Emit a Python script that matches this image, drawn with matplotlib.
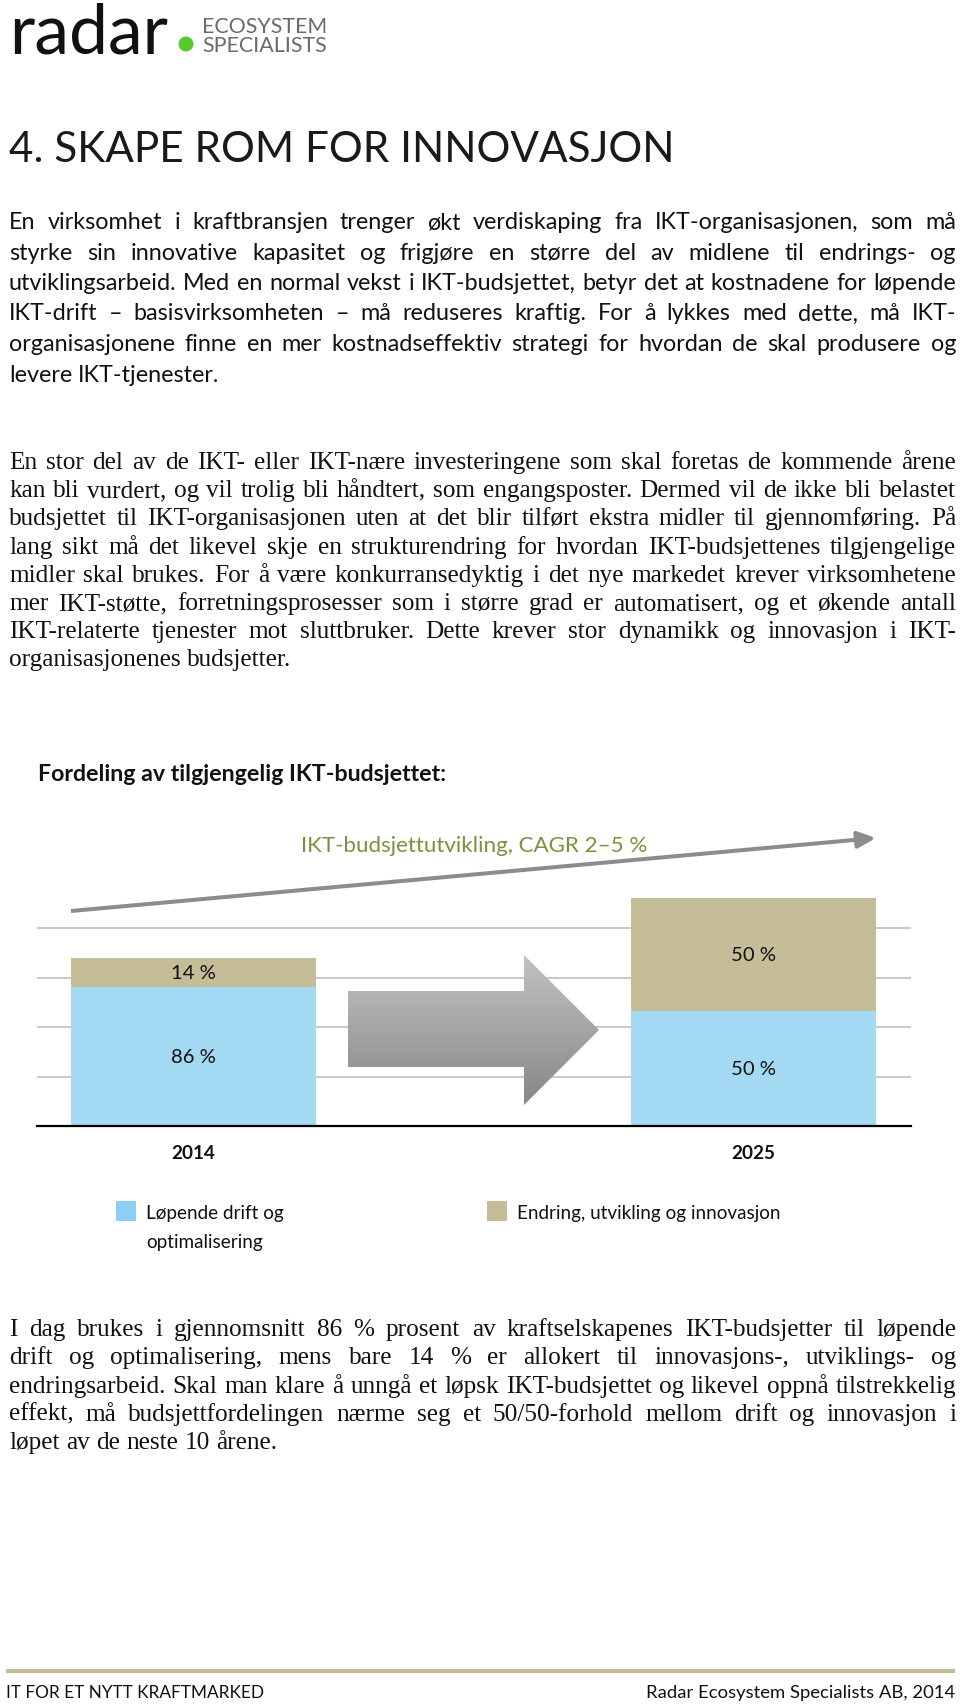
import numpy as np
import matplotlib
matplotlib.use("Agg")
import matplotlib.pyplot as plt
from matplotlib.font_manager import FontProperties
from matplotlib.patches import Polygon, Rectangle, Circle, FancyArrowPatch
from matplotlib.colors import LinearSegmentedColormap

# ---------------- data ----------------
years = ['2014', '2025']
drift = [84, 70]            # bar segment heights (index units)
innovasjon = [18, 68]
drift_labels = ['86 %', '50 %']
innov_labels = ['14 %', '50 %']
legend_names = ['Løpende drift og\noptimalisering', 'Endring, utvikling og innovasjon']
grid_values = [30, 60, 90, 120]
trend_label = 'IKT-budsjettutvikling, CAGR 2–5 %'
chart_title = 'Fordeling av tilgjengelig IKT-budsjettet:'
page_title = '4. SKAPE ROM FOR INNOVASJON'
footer_left = 'IT FOR ET NYTT KRAFTMARKED'
footer_right = 'Radar Ecosystem Specialists AB, 2014'

para1 = [
    "En virksomhet i kraftbransjen trenger økt verdiskaping fra IKT-organisasjonen, som må",
    "styrke sin innovative kapasitet og frigjøre en større del av midlene til endrings- og",
    "utviklingsarbeid. Med en normal vekst i IKT-budsjettet, betyr det at kostnadene for løpende",
    "IKT-drift – basisvirksomheten – må reduseres kraftig. For å lykkes med dette, må IKT-",
    "organisasjonene finne en mer kostnadseffektiv strategi for hvordan de skal produsere og",
    "levere IKT-tjenester.",
]
para2 = [
    "En stor del av de IKT- eller IKT-nære investeringene som skal foretas de kommende årene",
    "kan bli vurdert, og vil trolig bli håndtert, som engangsposter. Dermed vil de ikke bli belastet",
    "budsjettet til IKT-organisasjonen uten at det blir tilført ekstra midler til gjennomføring. På",
    "lang sikt må det likevel skje en strukturendring for hvordan IKT-budsjettenes tilgjengelige",
    "midler skal brukes. For å være konkurransedyktig i det nye markedet krever virksomhetene",
    "mer IKT-støtte, forretningsprosesser som i større grad er automatisert, og et økende antall",
    "IKT-relaterte tjenester mot sluttbruker. Dette krever stor dynamikk og innovasjon i IKT-",
    "organisasjonenes budsjetter.",
]
para3 = [
    "I dag brukes i gjennomsnitt 86 % prosent av kraftselskapenes IKT-budsjetter til løpende",
    "drift og optimalisering, mens bare 14 % er allokert til innovasjons-, utviklings- og",
    "endringsarbeid. Skal man klare å unngå et løpsk IKT-budsjettet og likevel oppnå tilstrekkelig",
    "effekt, må budsjettfordelingen nærme seg et 50/50-forhold mellom drift og innovasjon i",
    "løpet av de neste 10 årene.",
]

# ---------------- style ----------------
SANS = 'Lato'
SERIF = 'Liberation Serif'
BLUE = '#A3D9F2'
BLUE_LEG = '#8CCFF5'
TAN = '#C4BD97'
GRID = '#BFBFBF'
OLIVE = '#77933C'
TXT = '#111111'

W, H = 960, 1708
fig = plt.figure(figsize=(W / 100, H / 100), dpi=100)
fig.patch.set_facecolor('white')
renderer = fig.canvas.get_renderer()


def tw(s, fp):
    w, h, d = renderer.get_text_width_height_descent(s, fp, ismath=False)
    return w


def fit_size(s, width, family=SANS, weight='normal'):
    fp = FontProperties(family=family, size=10, weight=weight)
    return 10 * width / tw(s, fp)


# page axes in pixel coordinates
axp = fig.add_axes([0, 0, 1, 1], zorder=2)
axp.set_xlim(0, W)
axp.set_ylim(H, 0)
axp.axis('off')

# ---------------- chart axes ----------------
px_per_unit = 49.5 / 30
x_left, x_right = 37, 911
base_y = 1127
ymax = 150
top_y = base_y - ymax * px_per_unit
axc = fig.add_axes([x_left / W, 1 - base_y / H, (x_right - x_left) / W, (base_y - top_y) / H], zorder=1)
axc.set_facecolor('none')
xpos = np.arange(len(years))
bw = 0.4375
b1 = axc.bar(xpos, drift, width=bw, color=BLUE, zorder=2)
b2 = axc.bar(xpos, innovasjon, width=bw, bottom=drift, color=TAN, zorder=2)
axc.set_xlim(-0.2795, 1.28125)
axc.set_ylim(0, ymax)
axc.set_yticks(grid_values)
axc.yaxis.grid(True, color=GRID, lw=1.2)
axc.set_axisbelow(True)
axc.tick_params(axis='y', length=0, labelleft=False)
for sp in ['top', 'left', 'right']:
    axc.spines[sp].set_visible(False)
axc.spines['bottom'].set_color('black')
axc.spines['bottom'].set_linewidth(1.6)
ysz = fit_size('2014', 44, weight='bold')
axc.set_xticks(xpos)
axc.set_xticklabels(years, fontsize=ysz, fontweight='bold', family=SANS, color=TXT)
axc.tick_params(axis='x', length=0, pad=13)
lsz = fit_size('14 %', 45)
axc.bar_label(b1, labels=drift_labels, label_type='center', fontsize=lsz, family=SANS, color=TXT)
axc.bar_label(b2, labels=innov_labels, label_type='center', fontsize=lsz, family=SANS, color=TXT)

# big gradient arrow between bars
verts = [(348, 992), (524, 992), (524, 956), (599, 1031), (524, 1106), (524, 1068), (348, 1068)]
poly = Polygon(verts, closed=True, transform=axp.transData, facecolor='none', edgecolor='none')
cmap = LinearSegmentedColormap.from_list('g', ['#C2C2C2', '#878787'])
grad = np.linspace(0, 1, 256).reshape(-1, 1)
im = axp.imshow(grad, cmap=cmap, extent=(348, 599, 1106, 956), origin='upper', aspect='auto', zorder=3)
im.set_clip_path(poly)
axp.set_xlim(0, W)
axp.set_ylim(H, 0)

# trend arrow
arr = FancyArrowPatch((71, 912), (876, 839), arrowstyle='-|>,head_length=11,head_width=5',
                      mutation_scale=1, color='#8C8C8C', lw=2.9, shrinkA=0, shrinkB=0,
                      capstyle='butt', zorder=3)
axp.add_patch(arr)
axp.text(474, 852, trend_label, ha='center', va='baseline', color=OLIVE,
         fontsize=fit_size(trend_label, 346), family=SANS)

# chart title
axp.text(38, 781, chart_title, ha='left', va='baseline', color=TXT, fontweight='bold',
         fontsize=fit_size(chart_title, 409, weight='bold'), family=SANS)

# legend
legsz = fit_size(legend_names[1], 263)
axp.add_patch(Rectangle((116, 1202), 20, 20, color=BLUE_LEG, lw=0))
axp.add_patch(Rectangle((487, 1202), 20, 20, color=TAN, lw=0))
l1a, l1b = legend_names[0].split('\n')
axp.text(146, 1219, l1a, ha='left', va='baseline', fontsize=legsz, family=SANS, color=TXT)
axp.text(146, 1248, l1b, ha='left', va='baseline', fontsize=legsz, family=SANS, color=TXT)
axp.text(517, 1219, legend_names[1], ha='left', va='baseline', fontsize=legsz, family=SANS, color=TXT)

# ---------------- logo ----------------
axp.text(9, 53, 'radar', ha='left', va='baseline', color='#111111',
         fontsize=fit_size('radar', 160), family=SANS)
axp.add_patch(Circle((186, 45), 7.5, color='#5BC92E', lw=0))
esz = fit_size('SPECIALISTS', 123)
axp.text(202, 33, 'ECOSYSTEM', ha='left', va='baseline', color='#6B6B6B', fontsize=esz, family=SANS)
axp.text(202, 52, 'SPECIALISTS', ha='left', va='baseline', color='#6B6B6B', fontsize=esz, family=SANS)

# title
axp.text(9, 162, page_title, ha='left', va='baseline', color='#1A1A1A',
         fontsize=fit_size(page_title, 658), family=SANS)


# ---------------- justified paragraphs ----------------
def para_size(groups, family, width):
    fp10 = FontProperties(family=family, size=10)
    sp10 = tw('x x', fp10) - tw('xx', fp10)
    nat = []
    for lines in groups:
        for ln in lines[:-1]:
            words = ln.split(' ')
            nat.append(sum(tw(w, fp10) for w in words) + sp10 * (len(words) - 1))
    return 10 * width / max(nat) * 0.995


def draw_para(lines, family, size, x0, x1, y0, dy):
    fp = FontProperties(family=family, size=size)
    sp = tw('x x', fp) - tw('xx', fp)
    for i, ln in enumerate(lines):
        words = ln.split(' ')
        widths = [tw(w, fp) for w in words]
        if i < len(lines) - 1 and len(words) > 1:
            gap = ((x1 - x0) - sum(widths)) / (len(words) - 1)
        else:
            gap = sp
        x = x0
        y = y0 + i * dy
        for w, wd in zip(words, widths):
            axp.text(x, y, w, fontproperties=fp, ha='left', va='baseline', color=TXT)
            x += wd + gap


X0, X1 = 9, 956
s1 = para_size([para1], SANS, X1 - X0)
draw_para(para1, SANS, s1, X0, X1, 229, 30.5)
s2 = para_size([para2, para3], SERIF, X1 - X0)
draw_para(para2, SERIF, s2, X0, X1, 469, 28.2)
draw_para(para3, SERIF, s2, X0, X1, 1336, 28.3)

# ---------------- footer ----------------
axp.plot([6, 955], [1672, 1672], color=TAN, lw=3, solid_capstyle='butt')
axp.text(6, 1698, footer_left, ha='left', va='baseline', color=TXT,
         fontsize=fit_size(footer_left, 257), family=SANS)
axp.text(955, 1698, footer_right, ha='right', va='baseline', color=TXT,
         fontsize=fit_size(footer_right, 308), family=SANS)

fig.savefig('out.png', dpi=100, facecolor='white')
